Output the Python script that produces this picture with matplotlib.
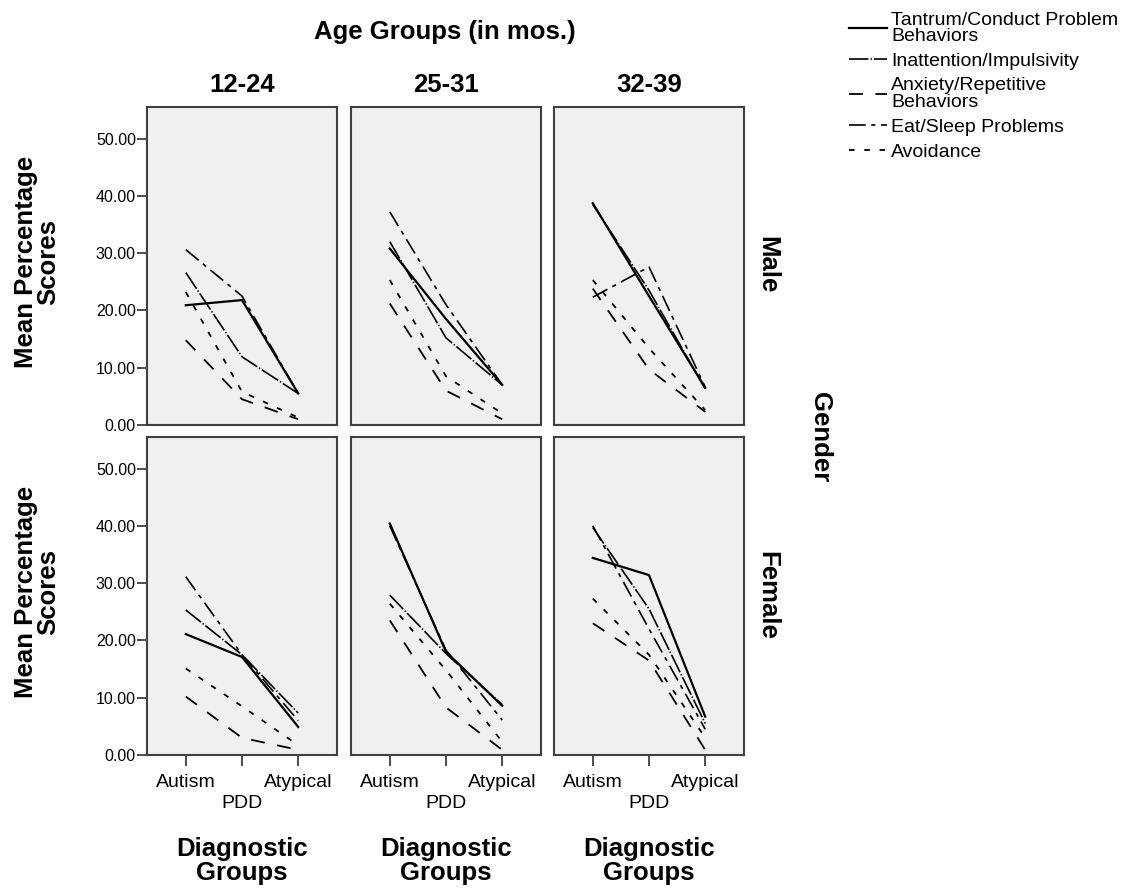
import matplotlib
matplotlib.use("Agg")
import matplotlib.pyplot as plt
from matplotlib.lines import Line2D
from matplotlib.transforms import blended_transform_factory

plt.rcParams['font.family'] = ['Liberation Sans', 'DejaVu Sans']
plt.rcParams['lines.scale_dashes'] = False

categories = ['Autism', 'PDD', 'Atypical']
age_groups = ['12-24', '25-31', '32-39']
genders = ['Male', 'Female']
yticks = [0, 10, 20, 30, 40, 50]

series_names = ['Tantrum/Conduct Problem\nBehaviors', 'Inattention/Impulsivity',
                'Anxiety/Repetitive\nBehaviors', 'Eat/Sleep Problems', 'Avoidance']

# values per age group (12-24, 25-31, 32-39), each [Autism, PDD, Atypical]
tantrum_male = [[20.9, 21.8, 5.5], [30.8, 18.5, 7.0], [38.7, 22.5, 6.5]]
inattention_male = [[26.6, 11.9, 5.5], [32.0, 15.2, 7.0], [38.5, 23.5, 6.3]]
anxiety_male = [[14.8, 4.5, 1.0], [21.2, 6.0, 1.0], [23.8, 9.7, 2.3]]
eatsleep_male = [[30.6, 22.5, 5.5], [37.2, 21.0, 7.0], [22.3, 27.6, 6.6]]
avoidance_male = [[23.2, 5.8, 1.3], [25.3, 8.5, 2.0], [25.3, 13.4, 2.6]]

tantrum_female = [[21.1, 17.1, 4.9], [40.4, 18.0, 8.6], [34.4, 31.4, 6.7]]
inattention_female = [[25.3, 17.5, 7.3], [27.9, 17.7, 8.8], [39.7, 25.5, 5.5]]
anxiety_female = [[10.2, 3.0, 0.9], [23.5, 8.3, 0.9], [23.0, 16.5, 0.9]]
eatsleep_female = [[31.1, 17.5, 6.0], [40.0, 18.3, 6.1], [40.0, 22.0, 4.5]]
avoidance_female = [[15.1, 8.5, 1.7], [26.4, 14.8, 2.3], [27.3, 17.5, 3.0]]

data = {
    'Male': [tantrum_male, inattention_male, anxiety_male, eatsleep_male, avoidance_male],
    'Female': [tantrum_female, inattention_female, anxiety_female, eatsleep_female, avoidance_female],
}

styles = [
    dict(linestyle='-', linewidth=1.6),
    dict(linestyle=(0, (14, 1.5, 1, 1.5)), linewidth=1.2),
    dict(linestyle=(0, (10, 9)), linewidth=1.3),
    dict(linestyle=(0, (12, 4, 3, 4)), linewidth=1.2),
    dict(linestyle=(0, (4, 7)), linewidth=1.3),
]

W, H = 1126, 890
fig = plt.figure(figsize=(W / 100, H / 100), dpi=100)

lefts = [147, 351, 554]
pw = 190
tops = [107, 437]
ph = 318
frame_col = '#404040'
big = 18.5

for r, g in enumerate(genders):
    for c, age in enumerate(age_groups):
        ax = fig.add_axes([lefts[c] / W, 1 - (tops[r] + ph) / H, pw / W, ph / H])
        ax.set_facecolor('#F0F0F0')
        for sp in ax.spines.values():
            sp.set_color(frame_col)
            sp.set_linewidth(1.5)
        for s, st in zip(data[g], styles):
            ax.plot(range(len(categories)), s[c], color='black', **st)
        ax.set_xlim(-0.69, 2.69)
        ax.set_ylim(0, 55.5)
        ax.set_yticks(yticks)
        if c == 0:
            ax.set_yticklabels([f'{v:.2f}' for v in yticks], fontsize=11.5)
            ax.tick_params(axis='y', length=7, width=1.3, color=frame_col, pad=1)
            ax.text(37 / W, 1 - (tops[r] + ph / 2 - 4) / H, 'Mean Percentage\nScores',
                    transform=fig.transFigure,
                    rotation=90, ha='center', va='center', fontsize=big,
                    fontweight='bold', linespacing=0.92)
        else:
            ax.tick_params(axis='y', length=0, labelleft=False)
        if r == 1:
            ax.set_xticks([0, 1, 2])
            ax.set_xticklabels(['Autism', '\nPDD', 'Atypical'], fontsize=14, linespacing=1.25)
            ax.tick_params(axis='x', length=8, width=1.3, color=frame_col, pad=6)
            ax.set_xticks([1], minor=True)
            ax.tick_params(axis='x', which='minor', length=24, width=1.3, color=frame_col)
            ax.text(0.5, 1 - 861 / H, 'Diagnostic\nGroups',
                    transform=blended_transform_factory(ax.transAxes, fig.transFigure),
                    ha='center', va='center', fontsize=big, fontweight='bold',
                    linespacing=0.97)
        else:
            ax.set_xticks([])
        if r == 0:
            ax.set_title(age, fontsize=big, fontweight='bold', pad=11)
        if c == 2:
            ax.text(767 / W, 1 - (tops[r] + ph / 2 - 1) / H, g, transform=fig.transFigure,
                    rotation=-90, ha='center', va='center', fontsize=big, fontweight='bold')

fig.text(445 / W, 1 - 32 / H, 'Age Groups (in mos.)', ha='center', va='center',
         fontsize=big, fontweight='bold')
fig.text(820 / W, 1 - 437 / H, 'Gender', ha='center', va='center', rotation=-90,
         fontsize=big, fontweight='bold')

handles = [Line2D([], [], color='black', **st) for st in styles]
leg = fig.legend(handles, series_names, loc='upper left',
                 bbox_to_anchor=(837 / W, 1 - 0 / H), frameon=False, fontsize=14,
                 handlelength=1.95, handletextpad=0.25, labelspacing=0.38,
                 borderaxespad=0.2)
for t in leg.get_texts():
    t.set_linespacing(0.95)

fig.savefig('out.png', dpi=100, facecolor='white')
